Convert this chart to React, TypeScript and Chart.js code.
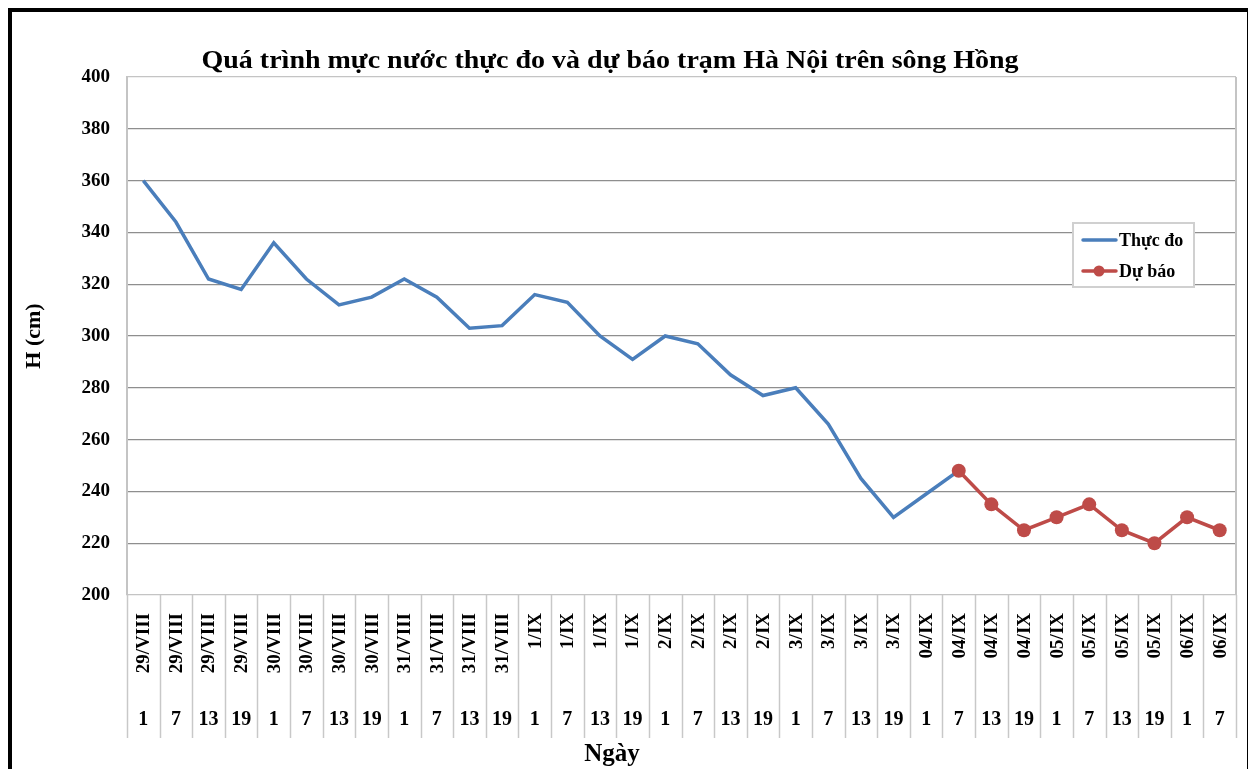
import React, { useEffect, useRef } from "react";
import { Chart, registerables } from "chart.js";

Chart.register(...registerables);

const chartTitle = "Quá trình mực nước thực đo và dự báo trạm Hà Nội trên sông Hồng";
const yAxisTitle = "H (cm)";
const xAxisTitle = "Ngày";
const seriesNames = ["Thực đo", "Dự báo"];

const dates = [
  "29/VIII", "29/VIII", "29/VIII", "29/VIII",
  "30/VIII", "30/VIII", "30/VIII", "30/VIII",
  "31/VIII", "31/VIII", "31/VIII", "31/VIII",
  "1/IX", "1/IX", "1/IX", "1/IX",
  "2/IX", "2/IX", "2/IX", "2/IX",
  "3/IX", "3/IX", "3/IX", "3/IX",
  "04/IX", "04/IX", "04/IX", "04/IX",
  "05/IX", "05/IX", "05/IX", "05/IX",
  "06/IX", "06/IX",
];

const hours = [
  "1", "7", "13", "19",
  "1", "7", "13", "19",
  "1", "7", "13", "19",
  "1", "7", "13", "19",
  "1", "7", "13", "19",
  "1", "7", "13", "19",
  "1", "7", "13", "19",
  "1", "7", "13", "19",
  "1", "7",
];

const measured = [
  360, 344, 322, 318,
  336, 322, 312, 315,
  322, 315, 303, 304,
  316, 313, 300, 291,
  300, 297, 285, 277,
  280, 266, 245, 230,
  239, 248, null, null,
  null, null, null, null,
  null, null,
];

const forecast = [
  null, null, null, null,
  null, null, null, null,
  null, null, null, null,
  null, null, null, null,
  null, null, null, null,
  null, null, null, null,
  null, 248, 235, 225,
  230, 235, 225, 220,
  230, 225,
];

const yTicks = [200, 220, 240, 260, 280, 300, 320, 340, 360, 380, 400];

const BLUE = "#4A7EBB";
const RED = "#BE4B48";
const FONT = "'Liberation Serif', 'Times New Roman', 'DejaVu Serif', serif";

const decorPlugin = {
  id: "decor",
  afterDraw(chart: any) {
    const ctx = chart.ctx as CanvasRenderingContext2D;
    const area = chart.chartArea;
    const xs = chart.scales.x;
    ctx.save();

    // right plot border
    ctx.strokeStyle = "#c4c4c4";
    ctx.lineWidth = 2;
    ctx.beginPath();
    ctx.moveTo(area.right, area.top);
    ctx.lineTo(area.right, area.bottom);
    ctx.stroke();

    // category separators in label zone
    const step = xs.getPixelForValue(1) - xs.getPixelForValue(0);
    ctx.strokeStyle = "#c8c8c8";
    ctx.lineWidth = 1.5;
    for (let i = 0; i <= dates.length; i++) {
      const x = Math.round(xs.getPixelForValue(i) - step / 2) + 0.5;
      ctx.beginPath();
      ctx.moveTo(x, area.bottom);
      ctx.lineTo(x, 726);
      ctx.stroke();
    }

    // date labels (rotated) and hour labels
    ctx.fillStyle = "#000";
    for (let i = 0; i < dates.length; i++) {
      const x = xs.getPixelForValue(i);
      ctx.save();
      ctx.translate(x, 601);
      ctx.rotate(-Math.PI / 2);
      ctx.font = `bold 19px ${FONT}`;
      ctx.textAlign = "right";
      ctx.textBaseline = "middle";
      ctx.fillText(dates[i], 0, 1);
      ctx.restore();

      ctx.font = `bold 20px ${FONT}`;
      ctx.textAlign = "center";
      ctx.textBaseline = "middle";
      ctx.fillText(hours[i], x, 708);
    }

    // x axis title
    ctx.font = `bold 25px ${FONT}`;
    ctx.textAlign = "center";
    ctx.textBaseline = "alphabetic";
    ctx.fillText(xAxisTitle, 600, 749);

    // chart title (slightly widened, like the reference)
    ctx.save();
    ctx.translate(598, 56);
    ctx.scale(1.12, 1.04);
    ctx.font = `bold 25px ${FONT}`;
    ctx.textAlign = "center";
    ctx.textBaseline = "alphabetic";
    ctx.fillText(chartTitle, 0, 0);
    ctx.restore();

    // legend
    const lx = 1061, ly = 211, lw = 121, lh = 64;
    ctx.fillStyle = "#fff";
    ctx.fillRect(lx, ly, lw, lh);
    ctx.strokeStyle = "#d0d0d0";
    ctx.lineWidth = 2;
    ctx.strokeRect(lx, ly, lw, lh);

    ctx.lineCap = "round";
    ctx.strokeStyle = BLUE;
    ctx.lineWidth = 3.5;
    ctx.beginPath();
    ctx.moveTo(1071, 228);
    ctx.lineTo(1104, 228);
    ctx.stroke();

    ctx.strokeStyle = RED;
    ctx.beginPath();
    ctx.moveTo(1071, 259);
    ctx.lineTo(1104, 259);
    ctx.stroke();
    ctx.fillStyle = RED;
    ctx.beginPath();
    ctx.arc(1087, 259, 5.5, 0, Math.PI * 2);
    ctx.fill();

    ctx.fillStyle = "#000";
    ctx.font = `bold 18px ${FONT}`;
    ctx.textAlign = "left";
    ctx.textBaseline = "middle";
    ctx.fillText(seriesNames[0], 1107, 229);
    ctx.fillText(seriesNames[1], 1107, 260);

    ctx.restore();
  },
};

export default function App() {
  const ref = useRef<HTMLCanvasElement | null>(null);

  useEffect(() => {
    if (!ref.current) return;
    const chart = new Chart(ref.current, {
      type: "line",
      data: {
        labels: dates.map((d, i) => `${d} ${hours[i]}`),
        datasets: [
          {
            label: seriesNames[1],
            data: forecast,
            borderColor: RED,
            backgroundColor: RED,
            borderWidth: 3.5,
            pointRadius: 7,
            pointHoverRadius: 7,
            pointBorderWidth: 0,
            pointBackgroundColor: RED,
            tension: 0,
            spanGaps: false,
            order: 0,
          },
          {
            label: seriesNames[0],
            data: measured,
            borderColor: BLUE,
            backgroundColor: BLUE,
            borderWidth: 3.5,
            pointRadius: 0,
            pointHoverRadius: 0,
            tension: 0,
            spanGaps: false,
            order: 1,
          },
        ],
      },
      options: {
        responsive: false,
        animation: false,
        devicePixelRatio: 1,
        layout: { padding: { top: 65, right: 11, bottom: 0, left: 0 } },
        plugins: {
          legend: { display: false },
          title: { display: false },
          tooltip: { enabled: false },
        },
        scales: {
          x: {
            type: "category",
            offset: true,
            grid: { display: false },
            border: { display: false },
            ticks: { display: false },
            afterFit: (s: any) => {
              s.height = 179;
            },
          },
          y: {
            min: 200,
            max: 400,
            afterBuildTicks: (s: any) => {
              s.ticks = yTicks.map((v) => ({ value: v }));
            },
            ticks: {
              stepSize: 20,
              padding: 17,
              color: "#000",
              font: { family: FONT, size: 19, weight: "bold" },
            },
            grid: {
              drawTicks: false,
              lineWidth: 1.3,
              color: (c: any) =>
                c.tick && (c.tick.value === 200 || c.tick.value === 400) ? "#c4c4c4" : "#8e8e8e",
            },
            border: { display: true, color: "#c4c4c4", width: 2 },
            title: {
              display: true,
              text: yAxisTitle,
              color: "#000",
              font: { family: FONT, size: 22, weight: "bold" },
              padding: { top: 9, bottom: 0 },
            },
            afterFit: (s: any) => {
              s.width = 115;
            },
          },
        },
      },
      plugins: [decorPlugin],
    });
    return () => chart.destroy();
  }, []);

  return (
    <div
      style={{
        width: 1235,
        height: 762,
        border: "4px solid #000",
        background: "#fff",
        overflow: "hidden",
      }}
    >
      <canvas ref={ref} width={1235} height={762} style={{ display: "block" }} />
    </div>
  );
}
